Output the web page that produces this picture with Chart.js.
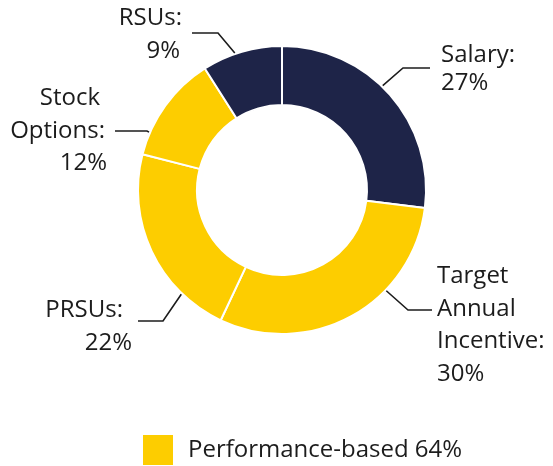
<!DOCTYPE html>
<html lang="en">
<head>
  <meta charset="UTF-8">
  <title>Pay mix</title>
  <script src="https://cdn.jsdelivr.net/npm/chart.js"></script>
  <style>
    html, body { margin: 0; padding: 0; background: #fff; }
    #wrap { width: 553px; height: 466px; position: relative; }
  </style>
</head>
<body>
<div id="wrap"><canvas id="chartCanvas"></canvas></div>
<script>
  // data
  const categories = ['Salary', 'Target Annual Incentive', 'PRSUs', 'Stock Options', 'RSUs'];
  const shares = [27, 30, 22, 12, 9];
  const performanceBased = [false, true, true, true, false];
  const legendLabel = 'Performance-based 64%';

  const NAVY = '#1e2448';
  const GOLD = '#fdcd00';
  const TEXT = '#1c1c1c';
  const FONT = '24px "Open Sans", Arial, sans-serif';

  // label layout: leader start angle (deg from top, clockwise), elbow/end offsets from centre, text lines
  const labelLayout = [
    { angle: 44, elbow: [121, -122], end: [148, -122], align: 'left',
      lines: [['Salary:', 159, -135], ['27%', 159, -107]] },
    { angle: 134, elbow: [126, 120], end: [150, 120], align: 'left',
      lines: [['Target', 155, 86], ['Annual', 155, 119], ['Incentive:', 155, 151], ['30%', 155, 184]] },
    { angle: 224, elbow: [-119, 131], end: [-144, 131], align: 'right',
      lines: [['PRSUs:', -159, 120], ['22%', -150, 153]] },
    { angle: 293.5, elbow: [-135, -59], end: [-167, -59], align: 'right',
      lines: [['Stock', -182, -92], ['Options:', -177, -59], ['12%', -175, -27]] },
    { angle: 341, elbow: [-64, -157], end: [-90, -157], align: 'right',
      lines: [['RSUs:', -100, -172], ['9%', -102, -139]] }
  ];

  const calloutPlugin = {
    id: 'callouts',
    afterDraw(chart) {
      const ctx = chart.ctx;
      const arc = chart.getDatasetMeta(0).data[0];
      const cx = arc.x, cy = arc.y, r = arc.outerRadius + 1;
      ctx.save();
      ctx.strokeStyle = TEXT;
      ctx.lineWidth = 1.6;
      ctx.fillStyle = TEXT;
      ctx.font = FONT;
      ctx.textBaseline = 'middle';
      labelLayout.forEach(l => {
        const a = l.angle * Math.PI / 180;
        ctx.beginPath();
        ctx.moveTo(cx + r * Math.sin(a), cy - r * Math.cos(a));
        ctx.lineTo(cx + l.elbow[0], cy + l.elbow[1]);
        ctx.lineTo(cx + l.end[0], cy + l.end[1]);
        ctx.stroke();
        ctx.textAlign = l.align;
        l.lines.forEach(t => ctx.fillText(t[0], cx + t[1], cy + t[2]));
      });
      // legend
      ctx.fillStyle = GOLD;
      ctx.fillRect(143, 435, 30, 30);
      ctx.fillStyle = TEXT;
      ctx.textAlign = 'left';
      ctx.fillText(legendLabel, 188, 450);
      ctx.restore();
    }
  };

  new Chart(document.getElementById('chartCanvas'), {
    type: 'doughnut',
    data: {
      labels: categories,
      datasets: [{
        data: shares,
        backgroundColor: performanceBased.map(p => p ? GOLD : NAVY),
        borderColor: '#ffffff',
        borderWidth: 2
      }]
    },
    options: {
      responsive: true,
      maintainAspectRatio: false,
      animation: false,
      cutout: '59%',
      layout: { padding: { left: 137, right: 126, top: 45, bottom: 131 } },
      plugins: {
        legend: { display: false },
        tooltip: { enabled: false }
      }
    },
    plugins: [calloutPlugin]
  });
</script>
</body>
</html>
